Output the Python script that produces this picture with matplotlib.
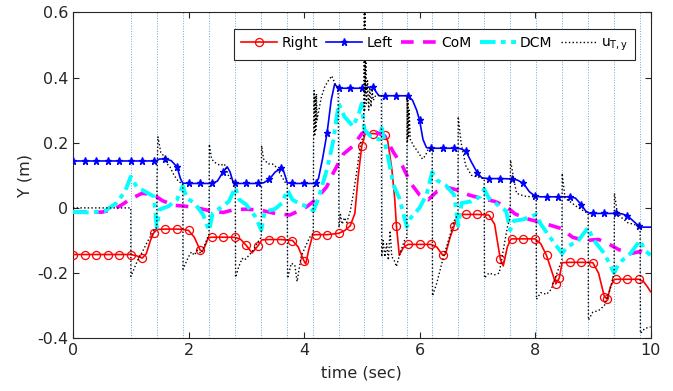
"""
Foot / CoM / DCM lateral trajectories over a walking sequence.
"""

import numpy as np
import matplotlib
matplotlib.use("Agg")
import matplotlib.pyplot as plt

plt.rcParams["font.family"] = "DejaVu Sans"
plt.rcParams["axes.unicode_minus"] = False
plt.rcParams["mathtext.fontset"] = "dejavusans"

# step switching instants (vertical guide lines)
step_times = [1.0, 1.45, 1.9, 2.355, 2.81, 3.26, 3.71, 4.16, 4.6, 5.045,
              5.345, 5.78, 6.22, 6.67, 7.12, 7.57, 8.02, 8.47, 8.92, 9.37, 9.82]

# right foot
right_t = [0.0, 0.2, 0.4, 0.6, 0.8, 1.0, 1.1, 1.2, 1.27, 1.34, 1.4, 1.46, 1.6, 1.8,
           1.9, 2.0, 2.1, 2.2, 2.24, 2.29, 2.34, 2.4, 2.6, 2.8, 2.9, 3.0, 3.1, 3.2,
           3.27, 3.4, 3.6, 3.8, 3.9, 4.0, 4.03, 4.08, 4.15, 4.2, 4.4, 4.6, 4.7, 4.8,
           4.88, 4.94, 5.0, 5.06, 5.2, 5.4, 5.45, 5.52, 5.57, 5.6, 5.65, 5.72, 5.8,
           6.0, 6.2, 6.3, 6.4, 6.45, 6.53, 6.6, 6.67, 6.8, 7.0, 7.2, 7.3, 7.4, 7.45,
           7.52, 7.58, 7.6, 7.8, 8.0, 8.1, 8.2, 8.3, 8.36, 8.42, 8.47, 8.6, 8.8, 9.0,
           9.1, 9.2, 9.25, 9.31, 9.37, 9.4, 9.6, 9.8, 9.88, 9.95, 10.0]
right_y = [-0.143, -0.143, -0.143, -0.143, -0.143, -0.143, -0.147, -0.154, -0.14,
           -0.1, -0.076, -0.066, -0.065, -0.065, -0.066, -0.069, -0.09, -0.129,
           -0.134, -0.115, -0.092, -0.09, -0.09, -0.09, -0.096, -0.115, -0.138,
           -0.117, -0.098, -0.097, -0.097, -0.1, -0.12, -0.163, -0.172, -0.13,
           -0.083, -0.082, -0.082, -0.078, -0.07, -0.055, -0.017, 0.1, 0.19, 0.228,
           0.228, 0.224, 0.205, 0.12, 0.03, -0.055, -0.145, -0.122, -0.112, -0.112,
           -0.112, -0.12, -0.145, -0.142, -0.09, -0.055, -0.02, -0.02, -0.02,
           -0.022, -0.05, -0.158, -0.178, -0.12, -0.096, -0.095, -0.095, -0.095,
           -0.11, -0.146, -0.2, -0.233, -0.215, -0.168, -0.167, -0.167, -0.168,
           -0.2, -0.272, -0.28, -0.24, -0.22, -0.219, -0.219, -0.219, -0.226,
           -0.243, -0.257]
right_marks = [0.0, 0.2, 0.4, 0.6, 0.8, 1.0, 1.2, 1.4, 1.6, 1.8, 2.0, 2.2, 2.4, 2.6,
               2.8, 3.0, 3.2, 3.4, 3.6, 3.8, 4.0, 4.2, 4.4, 4.6, 4.8, 5.0, 5.2, 5.4,
               5.6, 5.8, 6.0, 6.2, 6.4, 6.6, 6.8, 7.0, 7.2, 7.4, 7.6, 7.8, 8.0, 8.2,
               8.36, 8.42, 8.6, 8.8, 9.0, 9.2, 9.25, 9.4, 9.6, 9.8]

# left foot
left_t = [0.0, 0.2, 0.4, 0.6, 0.8, 1.0, 1.2, 1.4, 1.45, 1.5, 1.6, 1.7, 1.8, 1.86,
          1.9, 2.0, 2.2, 2.4, 2.5, 2.6, 2.67, 2.72, 2.77, 2.8, 3.0, 3.2, 3.3, 3.4,
          3.5, 3.6, 3.63, 3.67, 3.71, 3.8, 4.0, 4.2, 4.25, 4.32, 4.4, 4.47, 4.53,
          4.57, 4.6, 4.8, 5.0, 5.1, 5.2, 5.25, 5.3, 5.4, 5.6, 5.8, 5.88, 5.95, 6.0,
          6.06, 6.12, 6.2, 6.4, 6.6, 6.7, 6.8, 6.9, 7.0, 7.08, 7.2, 7.4, 7.6, 7.7,
          7.8, 7.9, 8.0, 8.1, 8.2, 8.4, 8.6, 8.7, 8.8, 8.88, 8.95, 9.0, 9.2, 9.4,
          9.5, 9.6, 9.7, 9.8, 9.85, 10.0]
left_y = [0.144, 0.144, 0.144, 0.144, 0.144, 0.144, 0.144, 0.144, 0.145, 0.15, 0.15,
          0.145, 0.126, 0.09, 0.076, 0.075, 0.075, 0.075, 0.082, 0.111, 0.126, 0.11,
          0.08, 0.075, 0.075, 0.075, 0.077, 0.088, 0.11, 0.121, 0.122, 0.1, 0.077,
          0.075, 0.075, 0.075, 0.09, 0.15, 0.231, 0.33, 0.38, 0.372, 0.367, 0.367,
          0.367, 0.37, 0.372, 0.355, 0.344, 0.344, 0.344, 0.344, 0.33, 0.3, 0.27,
          0.21, 0.185, 0.183, 0.183, 0.183, 0.182, 0.175, 0.14, 0.108, 0.092, 0.09,
          0.09, 0.089, 0.085, 0.075, 0.05, 0.036, 0.034, 0.034, 0.034, 0.034, 0.03,
          0.01, -0.01, -0.017, -0.017, -0.017, -0.017, -0.018, -0.024, -0.04,
          -0.056, -0.059, -0.059]
left_marks = [0.0, 0.2, 0.4, 0.6, 0.8, 1.0, 1.2, 1.4, 1.6, 1.8, 2.0, 2.2, 2.4, 2.6,
              2.8, 3.0, 3.2, 3.4, 3.6, 3.8, 4.0, 4.2, 4.4, 4.6, 4.8, 5.0, 5.2, 5.4,
              5.6, 5.8, 6.0, 6.2, 6.4, 6.6, 6.8, 7.0, 7.2, 7.4, 7.6, 7.8, 8.0, 8.2,
              8.4, 8.6, 8.8, 9.0, 9.2, 9.4, 9.6, 9.8]

# centre of mass
com_t = [0.0, 0.5, 0.7, 0.85, 1.0, 1.2, 1.4, 1.55, 1.75, 1.95, 2.15, 2.4, 2.6, 2.8,
         3.0, 3.25, 3.5, 3.75, 3.9, 4.05, 4.2, 4.39, 4.5, 4.68, 4.85, 5.0, 5.1,
         5.25, 5.4, 5.55, 5.7, 5.85, 6.0, 6.15, 6.3, 6.5, 6.65, 6.85, 7.05, 7.3,
         7.5, 7.65, 7.85, 8.05, 8.3, 8.45, 8.65, 8.85, 9.1, 9.25, 9.45, 9.65,
         9.85, 10.0]
com_y = [-0.012, -0.013, -0.005, 0.01, 0.028, 0.045, 0.04, 0.022, 0.008, 0.005,
         0.0, -0.01, -0.014, -0.005, -0.004, -0.007, -0.017, -0.022, -0.01, 0.004,
         0.025, 0.064, 0.105, 0.165, 0.19, 0.228, 0.238, 0.232, 0.22, 0.17, 0.13,
         0.075, 0.04, 0.025, 0.05, 0.062, 0.055, 0.04, 0.03, 0.02, 0.005, -0.018,
         -0.033, -0.042, -0.055, -0.063, -0.09, -0.1, -0.097, -0.108, -0.128,
         -0.14, -0.133, -0.142]

# divergent component of motion
dcm_t = [0.0, 0.3, 0.55, 0.75, 0.9, 1.0, 1.1, 1.25, 1.4, 1.45, 1.5, 1.65, 1.8, 1.9,
         1.97, 2.1, 2.25, 2.355, 2.42, 2.55, 2.7, 2.81, 2.88, 3.0, 3.15, 3.26,
         3.32, 3.5, 3.62, 3.71, 3.8, 3.95, 4.1, 4.16, 4.25, 4.4, 4.5, 4.6, 4.7,
         4.85, 4.95, 5.0, 5.045, 5.15, 5.3, 5.345, 5.45, 5.55, 5.65, 5.78, 5.85,
         6.0, 6.12, 6.22, 6.3, 6.45, 6.6, 6.67, 6.73, 6.9, 7.05, 7.12, 7.2, 7.35,
         7.5, 7.57, 7.63, 7.8, 7.95, 8.02, 8.1, 8.3, 8.47, 8.55, 8.75, 8.92, 9.0,
         9.2, 9.37, 9.45, 9.65, 9.82, 9.9, 10.0]
dcm_y = [-0.012, -0.014, -0.01, 0.015, 0.05, 0.096, 0.065, 0.05, 0.035, -0.06,
         -0.005, 0.005, 0.025, 0.068, 0.03, 0.015, -0.02, -0.07, -0.015, 0.0, 0.02,
         0.063, 0.025, 0.01, -0.025, -0.068, -0.012, -0.003, 0.015, 0.055, 0.025,
         0.01, 0.003, -0.01, 0.03, 0.12, 0.2, 0.32, 0.28, 0.25, 0.29, 0.32, 0.24,
         0.22, 0.21, 0.245, 0.16, 0.07, 0.03, -0.058, -0.03, 0.0, 0.04, 0.11,
         0.085, 0.07, 0.04, -0.055, 0.015, 0.02, 0.035, 0.058, 0.03, 0.01, -0.01,
         -0.068, -0.04, -0.035, -0.025, -0.02, -0.05, -0.1, -0.14, -0.12, -0.1,
         -0.06, -0.095, -0.14, -0.2, -0.17, -0.14, -0.1, -0.13, -0.145]

# torso / ZMP command u_T,y
ut_t = [0.0, 1.0, 1.002, 1.05, 1.12, 1.2, 1.3, 1.4, 1.45, 1.455, 1.47, 1.52, 1.57,
        1.62, 1.68, 1.75, 1.83, 1.9, 1.905, 1.95, 2.0, 2.05, 2.1, 2.15, 2.22, 2.3,
        2.355, 2.36, 2.4, 2.45, 2.55, 2.62, 2.7, 2.78, 2.81, 2.815, 2.87, 2.93,
        2.97, 3.05, 3.12, 3.2, 3.26, 3.265, 3.3, 3.38, 3.45, 3.52, 3.6, 3.68, 3.71,
        3.715, 3.78, 3.84, 3.88, 3.95, 4.02, 4.1, 4.16, 4.165, 4.175, 4.185, 4.195,
        4.205, 4.215, 4.225, 4.3, 4.36, 4.42, 4.48, 4.54, 4.59, 4.6, 4.605, 4.63,
        4.66, 4.7, 4.74, 4.8, 4.86, 4.92, 4.98, 5.03, 5.045, 5.05, 5.055, 5.06,
        5.07, 5.08, 5.1, 5.12, 5.14, 5.16, 5.18, 5.2, 5.24, 5.34, 5.345, 5.37, 5.4,
        5.43, 5.46, 5.49, 5.52, 5.56, 5.6, 5.66, 5.74, 5.78, 5.785, 5.79, 5.8,
        5.81, 5.82, 5.84, 5.9, 5.98, 6.05, 6.1, 6.15, 6.22, 6.225, 6.3, 6.4, 6.5,
        6.6, 6.665, 6.67, 6.72, 6.8, 6.9, 7.0, 7.12, 7.125, 7.2, 7.3, 7.38, 7.45,
        7.52, 7.57, 7.575, 7.62, 7.68, 7.75, 7.85, 8.02, 8.025, 8.1, 8.2, 8.28,
        8.38, 8.465, 8.47, 8.52, 8.6, 8.75, 8.92, 8.925, 9.0, 9.1, 9.2, 9.3, 9.37,
        9.375, 9.42, 9.5, 9.6, 9.7, 9.82, 9.825, 9.9, 10.0]
ut_y = [0.0, 0.0, -0.21, -0.19, -0.16, -0.135, -0.1, -0.07, -0.06, 0.1, 0.218,
        0.17, 0.16, 0.137, 0.125, 0.1, 0.08, 0.075, -0.188, -0.17, -0.15, -0.135,
        -0.145, -0.13, -0.14, -0.105, -0.08, 0.195, 0.15, 0.14, 0.13, 0.135, 0.095,
        0.08, 0.075, -0.213, -0.18, -0.155, -0.16, -0.145, -0.13, -0.105, -0.09,
        0.191, 0.15, 0.135, 0.135, 0.125, 0.1, 0.077, 0.075, -0.216, -0.17,
        -0.175, -0.226, -0.15, -0.12, -0.09, -0.078, 0.2, 0.36, 0.22, 0.34, 0.24,
        0.35, 0.27, 0.34, 0.372, 0.39, 0.405, 0.38, 0.37, 0.137, -0.06, -0.02,
        -0.05, -0.03, -0.045, -0.01, 0.05, 0.12, 0.2, 0.22, 0.65, 0.3, 0.6, 0.35,
        0.5, 0.32, 0.39, 0.3, 0.37, 0.31, 0.36, 0.33, 0.345, 0.345, -0.15, -0.1,
        -0.15, -0.11, -0.16, -0.07, -0.15, -0.16, -0.18, -0.14, -0.1, -0.09, 0.34,
        0.2, 0.33, 0.22, 0.3, 0.21, 0.19, 0.17, 0.15, 0.16, 0.18, 0.183, -0.27,
        -0.23, -0.16, -0.1, -0.04, -0.02, 0.28, 0.2, 0.13, 0.1, 0.095, 0.09,
        -0.215, -0.2, -0.205, -0.2, -0.13, -0.06, -0.03, 0.147, 0.1, 0.045, 0.04,
        0.035, 0.034, -0.28, -0.26, -0.265, -0.25, -0.2, -0.16, 0.106, 0.03, 0.02,
        0.0, -0.017, -0.344, -0.32, -0.315, -0.3, -0.25, -0.2, 0.045, -0.01,
        -0.03, -0.045, -0.05, -0.056, -0.385, -0.37, -0.365]

x_ticks = [0, 2, 4, 6, 8, 10]
y_ticks = [-0.4, -0.2, 0, 0.2, 0.4, 0.6]


def mark_index(t, marks):
    t = np.round(np.asarray(t), 3)
    return [int(np.flatnonzero(t == round(m, 3))[0]) for m in marks]


def plot_chart():
    fig = plt.figure(figsize=(6.73, 3.91), dpi=100)
    ax = fig.add_axes([0.1085, 0.1348, 0.8581, 0.8337])

    for ts in step_times:
        ax.axvline(ts, color="#3a8ad0", linewidth=0.7, linestyle=":", alpha=0.75, zorder=1)

    l_r, = ax.plot(right_t, right_y, color="red", linewidth=1.2, marker="o",
                   markersize=5.8, markerfacecolor="none", markeredgewidth=0.9,
                   markevery=mark_index(right_t, right_marks), label="Right", zorder=3)
    l_l, = ax.plot(left_t, left_y, color="blue", linewidth=1.2, marker="*",
                   markersize=5.2, markevery=mark_index(left_t, left_marks),
                   label="Left", zorder=3)
    l_c, = ax.plot(com_t, com_y, color="magenta", linewidth=2.6,
                   linestyle=(0, (3.5, 2.6)), label="CoM", zorder=3)
    l_d, = ax.plot(dcm_t, dcm_y, color="cyan", linewidth=2.8,
                   linestyle=(0, (4, 1.4, 1.2, 1.4)), label="DCM", zorder=3)
    l_u, = ax.plot(ut_t, ut_y, color="black", linewidth=1.0, linestyle=":",
                   label=r"u$_\mathregular{T,y}$", zorder=4)

    ax.set_xlim(0, 10)
    ax.set_ylim(-0.4, 0.6)
    ax.set_xticks(x_ticks)
    ax.set_yticks(y_ticks)
    ax.set_yticklabels(["-0.4", "-0.2", "0", "0.2", "0.4", "0.6"])
    ax.tick_params(direction="in", top=True, right=True, length=4,
                   labelsize=11.5, color="#262626", labelcolor="#262626")
    for sp in ax.spines.values():
        sp.set_color("#262626")
        sp.set_linewidth(0.8)
    ax.set_xlabel("time (sec)", fontsize=11.5, color="#262626", labelpad=5)
    ax.set_ylabel("Y (m)", fontsize=11.5, color="#262626", labelpad=3)

    leg = ax.legend(handles=[l_r, l_l, l_c, l_d, l_u], ncol=5, loc="upper right",
                    bbox_to_anchor=(0.986, 0.97), fontsize=10, handlelength=2.6,
                    handletextpad=0.3, columnspacing=0.6, borderpad=0.5,
                    fancybox=False, framealpha=1)
    leg.get_frame().set_edgecolor("#262626")
    leg.get_frame().set_linewidth(0.8)

    fig.savefig("out.png", dpi=100)
    plt.close(fig)


if __name__ == "__main__":
    plot_chart()
